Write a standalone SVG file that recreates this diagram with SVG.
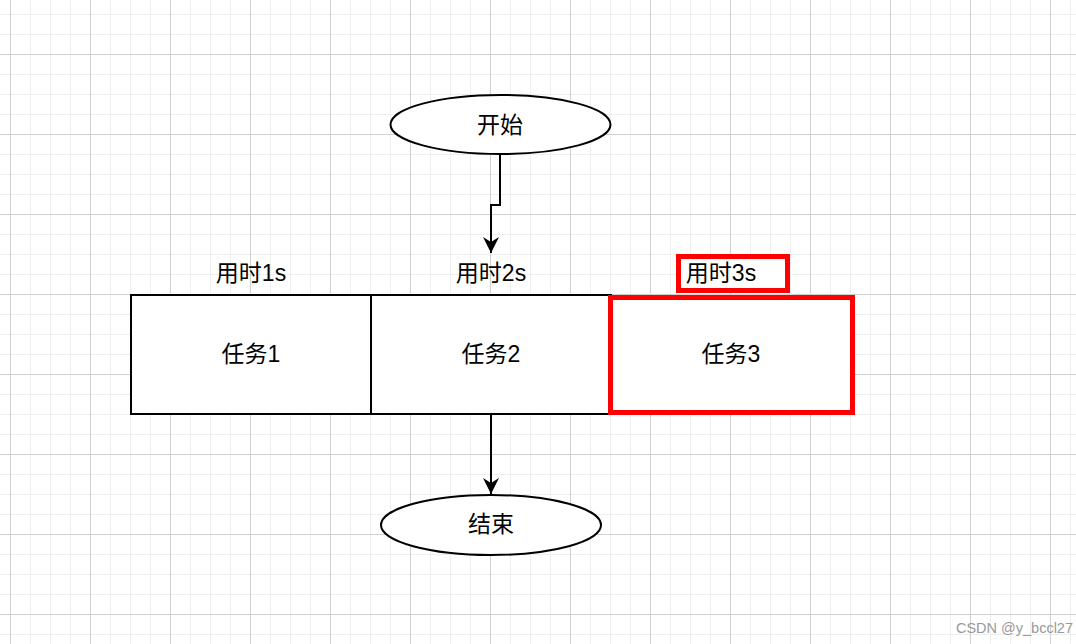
<svg xmlns="http://www.w3.org/2000/svg" width="1076" height="644" viewBox="0 0 1076 644">
<defs>
<pattern id="grid" x="10" y="54" width="80" height="80" patternUnits="userSpaceOnUse">
<path d="M20.5,0 V80 M40.5,0 V80 M60.5,0 V80 M0,20.5 H80 M0,40.5 H80 M0,60.5 H80" stroke="#eeeeee" stroke-width="1" fill="none"/>
<path d="M0.5,0 V80 M0,0.5 H80" stroke="#d0d0d0" stroke-width="1" fill="none"/>
</pattern>
<marker id="arrow" viewBox="0 0 16 16" refX="16" refY="8" markerWidth="16" markerHeight="16" markerUnits="userSpaceOnUse" orient="auto">
<path d="M16,8 L0,0 L5,8 L0,16 Z" fill="#000"/>
</marker>
</defs>
<style>
.t{font-family:"Liberation Sans","Noto Sans CJK SC",sans-serif;font-size:23px;fill:#000;text-anchor:middle;dominant-baseline:central}
.shape{fill:#fff;stroke:#000;stroke-width:2}
.hl{fill:#fff;stroke:#ff0000;stroke-width:5}
.conn{fill:none;stroke:#000;stroke-width:2}
</style>
<rect width="1076" height="644" fill="#fff"/>
<rect width="1076" height="644" fill="url(#grid)"/>
<g id="start">
<ellipse class="shape" cx="500.5" cy="124.5" rx="110" ry="29.5"/>
<text class="t" x="500" y="125">开始</text>
</g>
<g id="task1">
<rect class="shape" x="131" y="295" width="240" height="119"/>
<text class="t" x="251" y="354">任务1</text>
<text class="t" x="251" y="273">用时1s</text>
</g>
<g id="task2">
<rect class="shape" x="371" y="295" width="240" height="119"/>
<text class="t" x="491" y="354">任务2</text>
<text class="t" x="491" y="273">用时2s</text>
</g>
<g id="task3">
<rect class="hl" x="610.5" y="297.5" width="242" height="115"/>
<text class="t" x="731" y="354">任务3</text>
<rect class="hl" x="678.5" y="256.5" width="109" height="34"/>
<text class="t" x="721" y="273">用时3s</text>
</g>
<g id="end">
<ellipse class="shape" cx="491" cy="525" rx="110" ry="30"/>
<text class="t" x="491" y="524">结束</text>
</g>
<g id="connectors">
<path class="conn" d="M500,154 V205 H491 V253" marker-end="url(#arrow)"/>
<path class="conn" d="M491,414 V494" marker-end="url(#arrow)"/>
</g>
<text x="1073" y="633" font-family="Liberation Sans, sans-serif" font-size="14.5" fill="#999" text-anchor="end">CSDN @y_bccl27</text>
</svg>
